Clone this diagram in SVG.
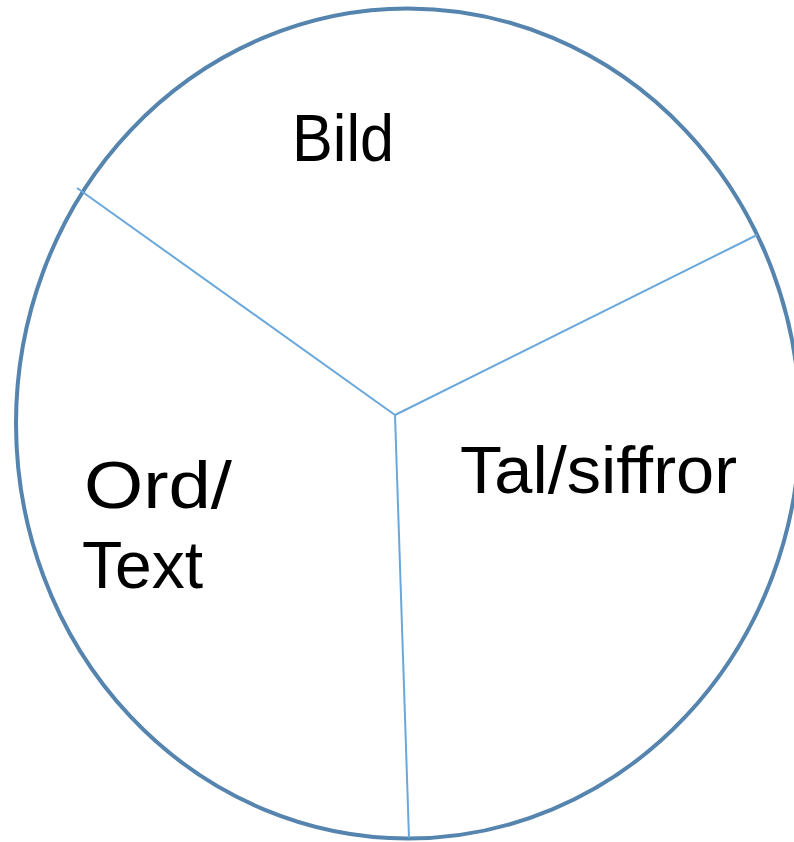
<svg xmlns="http://www.w3.org/2000/svg" width="794" height="842" viewBox="0 0 794 842">
<style>
.rim{fill:#ffffff;stroke:#5584AE;stroke-width:4}
.div{stroke:#6AA8DB;stroke-width:2;fill:none;stroke-linecap:butt}
.lbl{font-family:"Liberation Sans",Arial,sans-serif;font-size:66px;fill:#000000}
</style>
<rect width="794" height="842" fill="#ffffff"/>
<g id="circle">
<ellipse class="rim" cx="408" cy="423.5" rx="392" ry="415"/>
</g>
<g id="connectors">
<line class="div" x1="395" y1="415" x2="77" y2="188"/>
<line class="div" x1="395" y1="415" x2="757" y2="235"/>
<line class="div" x1="395" y1="415" x2="409" y2="838"/>
</g>
<g id="bild">
<text class="lbl" x="292" y="161" textLength="102" lengthAdjust="spacingAndGlyphs">Bild</text>
</g>
<g id="ord-text">
<text class="lbl" x="84" y="508" textLength="148" lengthAdjust="spacingAndGlyphs">Ord/</text>
<text class="lbl" x="82" y="588" textLength="121" lengthAdjust="spacingAndGlyphs">Text</text>
</g>
<g id="tal-siffror">
<text class="lbl" x="460" y="493" textLength="277" lengthAdjust="spacingAndGlyphs">Tal/siffror</text>
</g>
</svg>
